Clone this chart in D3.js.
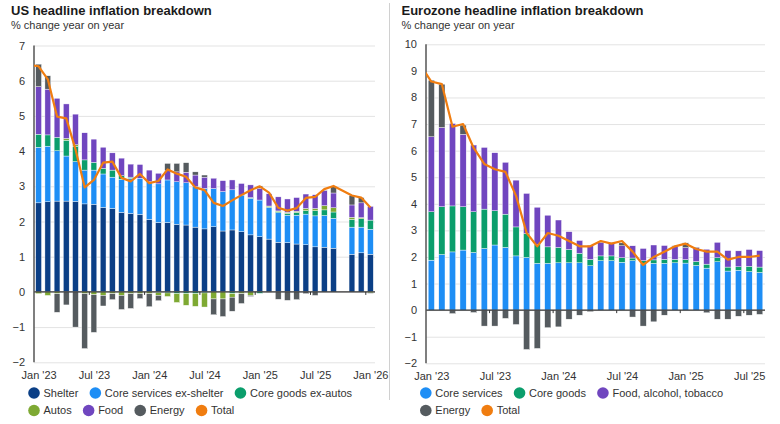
<!DOCTYPE html>
<html>
<head>
<meta charset="utf-8">
<script src="https://cdn.jsdelivr.net/npm/d3@7/dist/d3.min.js"></script>
<style>
    body { margin: 0; background: #fff; }
    svg { display: block; font-family: "Liberation Sans", Arial, sans-serif; }
    .title { font-size: 13px; font-weight: bold; fill: #1a1a1a; }
    .sub { font-size: 11px; fill: #333; }
    .legend text { font-size: 11px; fill: #333; }
</style>
</head>
<body>
<svg id="chart" width="780" height="424"></svg>
<script>
// ---- data ----
var usMonths = ["Jan 23", "Feb 23", "Mar 23", "Apr 23", "May 23", "Jun 23", "Jul 23", "Aug 23", "Sep 23", "Oct 23", "Nov 23", "Dec 23",
    "Jan 24", "Feb 24", "Mar 24", "Apr 24", "May 24", "Jun 24", "Jul 24", "Aug 24", "Sep 24", "Oct 24", "Nov 24", "Dec 24",
    "Jan 25", "Feb 25", "Mar 25", "Apr 25", "May 25", "Jun 25", "Jul 25", "Aug 25", "Sep 25", "Oct 25", "Nov 25", "Dec 25",
    "Jan 26"];
var usTickMonths = ["Jan 23", "Jul 23", "Jan 24", "Jul 24", "Jan 25", "Jul 25", "Jan 26"];
var usTickLabels = ["Jan '23", "Jul '23", "Jan '24", "Jul '24", "Jan '25", "Jul '25", "Jan '26"];
var usYTicks = [-2, -1, 0, 1, 2, 3, 4, 5, 6, 7];

// contributions, pp (Oct 2025 not published)
var usShelter = [2.53, 2.56, 2.58, 2.58, 2.57, 2.50, 2.49, 2.40, 2.37, 2.26, 2.23, 2.20,
    2.06, 1.97, 1.97, 1.92, 1.90, 1.84, 1.79, 1.85, 1.73, 1.76, 1.71, 1.62,
    1.57, 1.50, 1.41, 1.40, 1.36, 1.34, 1.28, 1.27, 1.24, null, 1.07, 1.11,
    1.07];
var usCoreServices = [1.58, 1.58, 1.43, 1.28, 1.13, 0.96, 0.97, 0.95, 0.89, 0.94, 1.00, 1.03,
    1.07, 1.10, 1.21, 1.21, 1.20, 1.15, 1.15, 1.09, 1.12, 1.14, 1.04, 1.04,
    1.04, 0.90, 0.84, 0.78, 0.82, 0.87, 0.88, 0.90, 0.85, null, 0.77, 0.73,
    0.71];
var usCoreGoods = [0.37, 0.32, 0.38, 0.45, 0.44, 0.29, 0.22, 0.16, 0.20, 0.10, 0.03, 0.00,
    0.00, -0.02, -0.03, -0.05, -0.05, -0.05, -0.03, 0.00, 0.00, -0.05, 0.00, 0.02,
    -0.04, 0.02, 0.03, 0.05, 0.08, 0.10, 0.15, 0.16, 0.18, null, 0.22, 0.24,
    0.26];
var usAutos = [-0.05, -0.10, -0.05, 0.05, 0.04, -0.05, -0.08, -0.10, -0.05, -0.10, -0.05, -0.05,
    -0.05, -0.08, -0.10, -0.25, -0.33, -0.36, -0.40, -0.20, -0.20, -0.10, -0.05, -0.10,
    0.00, 0.02, 0.02, 0.03, 0.03, 0.06, 0.06, 0.12, 0.12, null, 0.06, 0.03,
    -0.03];
var usFood = [1.35, 1.30, 1.11, 0.98, 0.87, 0.77, 0.66, 0.60, 0.49, 0.50, 0.37, 0.39,
    0.33, 0.30, 0.26, 0.28, 0.30, 0.33, 0.32, 0.29, 0.31, 0.28, 0.33, 0.36,
    0.33, 0.35, 0.40, 0.38, 0.39, 0.41, 0.39, 0.43, 0.42, null, 0.35, 0.42,
    0.39];
var usEnergy = [0.64, 0.38, -0.53, -0.37, -1.00, -1.56, -1.07, -0.30, -0.17, -0.40, -0.42, -0.14,
    -0.37, -0.15, 0.21, 0.24, 0.27, 0.09, 0.06, -0.45, -0.50, -0.40, -0.28, -0.03,
    0.07, -0.01, -0.21, -0.24, -0.22, -0.05, -0.10, 0.01, 0.18, null, 0.27, 0.15,
    -0.01];
// headline, starts one month earlier (Dec 2022)
var usTotal = [6.45,
    6.41, 6.04, 4.98, 4.93, 4.05, 2.97, 3.18, 3.67, 3.70, 3.24, 3.14, 3.35,
    3.09, 3.15, 3.48, 3.36, 3.27, 2.97, 2.89, 2.53, 2.44, 2.60, 2.75, 2.89,
    3.00, 2.82, 2.39, 2.31, 2.38, 2.67, 2.70, 2.92, 3.01, null, 2.74, 2.68,
    2.40];

var euMonths = usMonths.slice(0, 32);   // Jan 23 .. Aug 25
var euTickMonths = ["Jan 23", "Jul 23", "Jan 24", "Jul 24", "Jan 25", "Jul 25"];
var euTickLabels = ["Jan '23", "Jul '23", "Jan '24", "Jul '24", "Jan '25", "Jul '25"];
var euYTicks = [-2, -1, 0, 1, 2, 3, 4, 5, 6, 7, 8, 9, 10];

var euServices = [1.88, 2.09, 2.19, 2.26, 2.17, 2.32, 2.45, 2.36, 2.04, 1.98, 1.76, 1.76,
    1.78, 1.78, 1.78, 1.67, 1.86, 1.86, 1.80, 1.86, 1.76, 1.76, 1.76, 1.78,
    1.77, 1.68, 1.58, 1.82, 1.47, 1.50, 1.45, 1.42];
var euCoreGoods = [1.82, 1.80, 1.73, 1.63, 1.53, 1.48, 1.29, 1.25, 1.09, 0.90, 0.71, 0.62,
    0.58, 0.50, 0.36, 0.24, 0.18, 0.18, 0.17, 0.10, 0.10, 0.13, 0.15, 0.13,
    0.13, 0.15, 0.15, 0.15, 0.15, 0.13, 0.20, 0.20];
var euFood = [2.82, 2.98, 3.10, 2.72, 2.51, 2.32, 2.18, 1.95, 1.76, 1.51, 1.40, 1.19,
    1.03, 0.67, 0.48, 0.53, 0.50, 0.48, 0.45, 0.46, 0.46, 0.56, 0.52, 0.50,
    0.45, 0.52, 0.56, 0.58, 0.62, 0.60, 0.63, 0.62];
var euEnergy = [2.13, 1.63, -0.13, 0.35, -0.09, -0.60, -0.60, -0.31, -0.54, -1.48, -1.44, -0.66,
    -0.63, -0.34, -0.19, -0.06, 0.03, 0.02, 0.11, -0.26, -0.60, -0.44, -0.19, 0.01,
    0.18, 0.02, -0.10, -0.34, -0.34, -0.23, -0.19, -0.16];
// headline, starts one month earlier (Dec 2022)
var euTotal = [9.2,
    8.6, 8.5, 6.9, 7.0, 6.1, 5.5, 5.3, 5.2, 4.3, 2.9, 2.4, 2.9,
    2.8, 2.6, 2.4, 2.4, 2.6, 2.5, 2.6, 2.2, 1.7, 2.0, 2.2, 2.4,
    2.5, 2.3, 2.2, 2.2, 1.9, 2.0, 2.0, 2.05];

var colors = {
    "Shelter": "#0b3f86",
    "Core services ex-shelter": "#1e8ef5",
    "Core goods ex-autos": "#0b9e6c",
    "Autos": "#7ea933",
    "Food": "#7046bf",
    "Energy": "#555b5f",
    "Core services": "#1e8ef5",
    "Core goods": "#0b9e6c",
    "Food, alcohol, tobacco": "#7046bf",
    "Total": "#f07d10"
};

var svg = d3.select("#chart");
var FONT = "Liberation Sans, Arial, sans-serif";

function drawPanel(cfg) {
    var g = svg.append("g");
    var x = d3.scaleLinear()
        .domain([-0.5, cfg.months.length - 0.5])
        .range([cfg.left, cfg.right]);
    var y = d3.scaleLinear()
        .domain([cfg.yTicks[0], cfg.yTicks[cfg.yTicks.length - 1]])
        .range([cfg.bottom, cfg.top]);

    g.append("text").attr("class", "title").attr("x", cfg.titleX).attr("y", 15).text(cfg.title);
    g.append("text").attr("class", "sub").attr("x", cfg.titleX).attr("y", 28.5).text("% change year on year");

    // y axis labels + grid lines
    var yAxis = g.append("g")
        .attr("transform", "translate(" + cfg.left + ",0)")
        .call(d3.axisLeft(y).tickValues(cfg.yTicks).tickSize(-(cfg.right - cfg.left)).tickPadding(9).tickFormat(d3.format("d")));
    yAxis.attr("font-family", FONT).attr("font-size", 11);
    yAxis.select(".domain").remove();
    yAxis.selectAll(".tick line").attr("stroke", "#e3e3e3");
    yAxis.selectAll(".tick text").attr("fill", "#333");

    // stacked bars
    var keys = cfg.series.map(function (s) { return s.name; });
    var rows = cfg.months.map(function (m, i) {
        var r = { i: i, missing: false };
        cfg.series.forEach(function (s) {
            var v = s.values[i];
            if (v == null) { r.missing = true; v = 0; }
            r[s.name] = v;
        });
        return r;
    });
    var stacked = d3.stack().keys(keys).offset(d3.stackOffsetDiverging)(rows);
    var bw = cfg.barWidth;

    g.append("g")
        .selectAll("g")
        .data(stacked)
        .enter()
        .append("g")
        .attr("fill", function (d) { return colors[d.key]; })
        .selectAll("rect")
        .data(function (d) { return d.filter(function (p) { return !p.data.missing && p[1] !== p[0]; }); })
        .enter()
        .append("rect")
        .attr("x", function (p) { return x(p.data.i) - bw / 2; })
        .attr("width", bw)
        .attr("y", function (p) { return y(Math.max(p[0], p[1])); })
        .attr("height", function (p) { return Math.abs(y(p[0]) - y(p[1])); })
        .attr("stroke", "#fff")
        .attr("stroke-width", 0.4);

    // zero line and y axis line
    g.append("line")
        .attr("x1", cfg.left).attr("x2", cfg.right)
        .attr("y1", y(0)).attr("y2", y(0))
        .attr("stroke", "#333").attr("stroke-width", 1.2);
    g.append("line")
        .attr("x1", cfg.left).attr("x2", cfg.left)
        .attr("y1", y.range()[1]).attr("y2", y.range()[0])
        .attr("stroke", "#555").attr("stroke-width", 1.5);

    var tickIdx = cfg.tickMonths.map(function (m) { return cfg.months.indexOf(m); });

    // small marks on the zero line at the start of each labelled month
    g.append("g")
        .selectAll("line")
        .data(tickIdx.filter(function (i) { return i > 0; }))
        .enter()
        .append("line")
        .attr("x1", function (i) { return x(i - 0.5); })
        .attr("x2", function (i) { return x(i - 0.5); })
        .attr("y1", y(0)).attr("y2", y(0) + 3)
        .attr("stroke", "#333").attr("stroke-width", 1);

    // x labels
    var xAxis = g.append("g")
        .attr("transform", "translate(0," + cfg.bottom + ")")
        .call(d3.axisBottom(x).tickValues(tickIdx).tickSize(0).tickPadding(9)
            .tickFormat(function (d, i) { return cfg.tickLabels[i]; }));
    xAxis.attr("font-family", FONT).attr("font-size", 11);
    xAxis.select(".domain").remove();
    xAxis.selectAll(".tick text").attr("fill", "#333");

    // headline line (first value belongs to the month before the first bar)
    var clipId = "clip-" + cfg.id;
    svg.append("clipPath").attr("id", clipId)
        .append("rect")
        .attr("x", cfg.left).attr("y", 0)
        .attr("width", cfg.right - cfg.left).attr("height", cfg.bottom);
    var pts = cfg.total
        .map(function (v, k) { return { i: k - 1, v: v }; })
        .filter(function (d) { return d.v != null; });
    g.append("path")
        .datum(pts)
        .attr("clip-path", "url(#" + clipId + ")")
        .attr("fill", "none")
        .attr("stroke", colors["Total"])
        .attr("stroke-width", 2.2)
        .attr("stroke-linejoin", "round")
        .attr("d", d3.line()
            .x(function (d) { return x(d.i); })
            .y(function (d) { return y(d.v); }));

    // legend
    var leg = g.append("g").attr("class", "legend");
    cfg.legendRows.forEach(function (row, r) {
        var cx = cfg.legendX;
        var cy = cfg.legendY + r * 17.5;
        row.forEach(function (name) {
            leg.append("circle").attr("cx", cx).attr("cy", cy).attr("r", 5.8).attr("fill", colors[name]);
            var t = leg.append("text").attr("x", cx + 9.5).attr("y", cy).attr("dy", "0.35em").text(name);
            cx = cx + 9.5 + t.node().getComputedTextLength() + 17;
        });
    });
}

drawPanel({
    id: "us",
    title: "US headline inflation breakdown",
    titleX: 11,
    left: 34, right: 375, top: 45.5, bottom: 362.3,
    barWidth: 5.8,
    months: usMonths,
    tickMonths: usTickMonths,
    tickLabels: usTickLabels,
    yTicks: usYTicks,
    series: [
        { name: "Shelter", values: usShelter },
        { name: "Core services ex-shelter", values: usCoreServices },
        { name: "Core goods ex-autos", values: usCoreGoods },
        { name: "Autos", values: usAutos },
        { name: "Food", values: usFood },
        { name: "Energy", values: usEnergy }
    ],
    total: usTotal,
    legendX: 34, legendY: 393,
    legendRows: [["Shelter", "Core services ex-shelter", "Core goods ex-autos"], ["Autos", "Food", "Energy", "Total"]]
});

drawPanel({
    id: "eu",
    title: "Eurozone headline inflation breakdown",
    titleX: 401.5,
    left: 426, right: 765, top: 44.3, bottom: 363.3,
    barWidth: 6.2,
    months: euMonths,
    tickMonths: euTickMonths,
    tickLabels: euTickLabels,
    yTicks: euYTicks,
    series: [
        { name: "Core services", values: euServices },
        { name: "Core goods", values: euCoreGoods },
        { name: "Food, alcohol, tobacco", values: euFood },
        { name: "Energy", values: euEnergy }
    ],
    total: euTotal,
    legendX: 425.8, legendY: 393,
    legendRows: [["Core services", "Core goods", "Food, alcohol, tobacco"], ["Energy", "Total"]]
});

// divider between the two panels
svg.append("line")
    .attr("x1", 389.5).attr("x2", 389.5)
    .attr("y1", 3).attr("y2", 400)
    .attr("stroke", "#d0d0d0").attr("stroke-width", 1);
</script>
</body>
</html>
